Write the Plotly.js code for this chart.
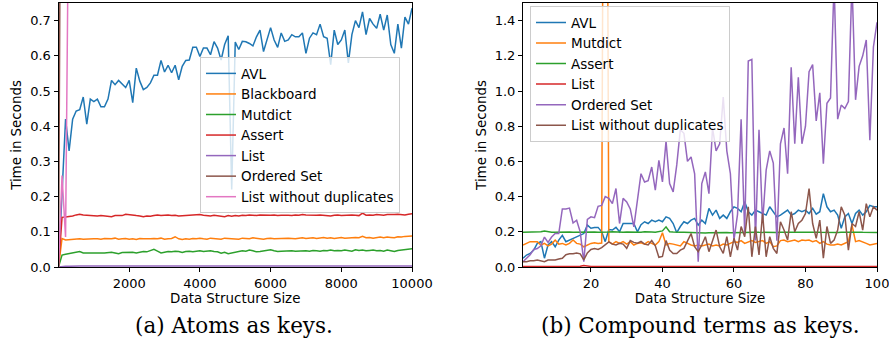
<!DOCTYPE html>
<html><head><meta charset="utf-8">
<script src="https://cdn.plot.ly/plotly-3.0.1.min.js"></script>
<style>html,body{margin:0;padding:0;background:#fff}#chart{width:889px;height:350px}</style>
</head><body><div id="chart"></div>
<script>
// ---------- (a) Atoms as keys ----------
const sizesA = [0,100,200,300,400,500,600,700,800,900,
1000,1100,1200,1300,1400,1500,1600,1700,1800,1900,
2000,2100,2200,2300,2400,2500,2600,2700,2800,2900,
3000,3100,3200,3300,3400,3500,3600,3700,3800,3900,
4000,4100,4200,4300,4400,4500,4600,4700,4800,4900,
5000,5100,5200,5300,5400,5500,5600,5700,5800,5900,
6000,6100,6200,6300,6400,6500,6600,6700,6800,6900,
7000,7100,7200,7300,7400,7500,7600,7700,7800,7900,
8000,8100,8200,8300,8400,8500,8600,8700,8800,8900,
9000,9100,9200,9300,9400,9500,9600,9700,9800,9900,10000];
const ticksA = [2000,4000,6000,8000,10000];
const tickLabelsA = ['2000','4000','6000','8000','10000'];
const avlA = [0.0,0.2,0.42,0.33,0.42,0.443,0.447,0.483,0.406,0.477,
0.47,0.477,0.455,0.455,0.477,0.53,0.518,0.53,0.52,0.51,
0.53,0.467,0.565,0.528,0.504,0.51,0.523,0.545,0.545,0.587,
0.554,0.573,0.552,0.573,0.532,0.57,0.587,0.588,0.624,0.624,
0.598,0.622,0.622,0.603,0.64,0.622,0.588,0.632,0.657,0.22,
0.639,0.618,0.641,0.64,0.635,0.628,0.654,0.673,0.612,0.65,
0.68,0.645,0.624,0.665,0.641,0.645,0.66,0.654,0.654,0.665,
0.607,0.65,0.665,0.66,0.69,0.654,0.65,0.575,0.673,0.632,
0.645,0.673,0.58,0.66,0.70,0.68,0.725,0.66,0.706,0.69,
0.678,0.718,0.673,0.716,0.632,0.607,0.69,0.622,0.71,0.69,0.735];
const blackboardA = [0.0,0.081,0.077,0.078,0.079,0.078,0.08,0.079,0.08,0.079,
0.08,0.08,0.079,0.081,0.08,0.08,0.082,0.079,0.08,0.081,
0.079,0.08,0.078,0.081,0.08,0.079,0.08,0.081,0.08,0.082,
0.079,0.08,0.081,0.086,0.08,0.078,0.08,0.079,0.081,0.08,
0.082,0.08,0.079,0.082,0.081,0.08,0.079,0.082,0.081,0.08,
0.08,0.079,0.082,0.081,0.08,0.083,0.082,0.08,0.079,0.081,
0.082,0.08,0.081,0.08,0.083,0.082,0.081,0.08,0.082,0.083,
0.081,0.082,0.083,0.081,0.082,0.084,0.082,0.083,0.081,0.083,
0.084,0.082,0.083,0.082,0.084,0.083,0.087,0.083,0.084,0.082,
0.084,0.085,0.083,0.085,0.084,0.083,0.086,0.085,0.087,0.087,0.088];
const mutdictA = [0.0,0.034,0.036,0.038,0.038,0.042,0.044,0.04,0.039,0.04,
0.04,0.041,0.04,0.04,0.041,0.042,0.04,0.038,0.041,0.042,
0.043,0.042,0.04,0.042,0.044,0.043,0.046,0.05,0.045,0.04,
0.042,0.044,0.043,0.045,0.044,0.041,0.044,0.045,0.043,0.045,
0.046,0.044,0.045,0.046,0.044,0.043,0.039,0.042,0.038,0.04,
0.043,0.044,0.046,0.045,0.048,0.046,0.043,0.044,0.046,0.047,
0.049,0.046,0.044,0.045,0.046,0.045,0.046,0.045,0.046,0.045,
0.046,0.045,0.047,0.046,0.045,0.047,0.046,0.048,0.046,0.047,
0.046,0.048,0.047,0.045,0.049,0.047,0.048,0.046,0.047,0.048,
0.046,0.047,0.045,0.048,0.046,0.044,0.047,0.048,0.05,0.051,0.052];
const assertA = [0.0,0.141,0.142,0.143,0.145,0.148,0.15,0.148,0.147,0.146,
0.146,0.145,0.146,0.145,0.145,0.143,0.146,0.147,0.146,0.15,
0.148,0.147,0.146,0.145,0.143,0.145,0.144,0.146,0.148,0.146,
0.147,0.148,0.146,0.147,0.145,0.146,0.147,0.146,0.148,0.15,
0.149,0.147,0.146,0.145,0.147,0.146,0.145,0.143,0.146,0.144,
0.146,0.145,0.147,0.146,0.148,0.147,0.146,0.148,0.147,0.146,
0.147,0.148,0.146,0.147,0.148,0.147,0.146,0.148,0.147,0.149,
0.148,0.147,0.146,0.147,0.148,0.147,0.146,0.145,0.147,0.148,
0.146,0.147,0.146,0.148,0.147,0.146,0.153,0.147,0.148,0.147,
0.149,0.148,0.147,0.149,0.148,0.149,0.15,0.149,0.148,0.15,0.151];
const listA = [0.0,0.002,0.002,0.002,0.003,0.003,0.003,0.003,0.003,0.003,
0.003,0.003,0.003,0.003,0.003,0.003,0.003,0.003,0.003,0.003,
0.003,0.003,0.003,0.003,0.003,0.003,0.003,0.003,0.003,0.003,
0.003,0.003,0.003,0.003,0.003,0.003,0.003,0.003,0.003,0.003,
0.003,0.003,0.003,0.003,0.003,0.003,0.003,0.003,0.003,0.003,
0.003,0.003,0.003,0.003,0.003,0.003,0.003,0.003,0.003,0.003,
0.003,0.003,0.003,0.003,0.003,0.003,0.003,0.003,0.003,0.003,
0.003,0.003,0.003,0.003,0.003,0.003,0.003,0.003,0.003,0.003,
0.003,0.003,0.003,0.003,0.003,0.003,0.003,0.003,0.003,0.003,
0.003,0.003,0.003,0.003,0.003,0.003,0.003,0.003,0.003,0.003,0.003];
const orderedSetA = [0.0,2.0,3.1,4.2,5.0,6.3,7.1,8.4,9.2,10.5,
11.3,12.6,13.4,14.5,15.7,16.4,17.8,18.6,19.5,20.9,
21.6,22.8,23.5,24.9,25.7,26.8,27.6,28.9,29.8,30.7,
31.9,32.6,33.8,34.7,35.9,36.6,37.8,38.7,39.6,40.9,
41.7,42.8,43.6,44.9,45.8,46.7,47.9,48.6,49.8,50.7,
51.9,52.6,53.8,54.7,55.9,56.8,57.6,58.9,59.7,60.8,
61.6,62.9,63.7,64.8,65.6,66.9,67.8,68.6,69.9,70.7,
71.8,72.6,73.9,74.8,75.6,76.9,77.7,78.8,79.6,80.9,
81.8,82.6,83.9,84.7,85.8,86.6,87.9,88.8,89.6,90.9,
91.7,92.8,93.6,94.9,95.8,96.6,97.9,98.7,99.8,100.6,101.9];
const listNoDupA = [0.0,0.26,0.085,1.2,24.5,29.1,33.8,38.2,43.0,47.6,
52.1,56.9,61.4,66.0,70.7,75.1,79.8,84.4,89.0,93.6,
98.3,102.8,107.5,112.1,116.6,121.3,125.9,130.4,135.1,139.7,
144.2,148.9,153.4,158.0,162.7,167.2,171.8,176.5,181.0,185.6,
190.3,194.8,199.4,204.1,208.6,213.2,217.9,222.4,227.0,231.7,
236.2,240.8,245.5,250.0,254.6,259.3,263.8,268.4,273.1,277.6,
282.2,286.9,291.4,296.0,300.7,305.2,309.8,314.5,319.0,323.6,
328.3,332.8,337.4,342.1,346.6,351.2,355.9,360.4,365.0,369.7,
374.2,378.8,383.5,388.0,392.6,397.3,401.8,406.4,411.1,415.6,
420.2,424.9,429.4,434.0,438.7,443.2,447.8,452.5,457.0,461.6,466.3];

// ---------- (b) Compound terms as keys ----------
const sizesB = [1,2,3,4,5,6,7,8,9,10,11,12,13,14,15,16,17,18,19,20,
21,22,23,24,25,26,27,28,29,30,31,32,33,34,35,36,37,38,39,40,
41,42,43,44,45,46,47,48,49,50,51,52,53,54,55,56,57,58,59,60,
61,62,63,64,65,66,67,68,69,70,71,72,73,74,75,76,77,78,79,80,
81,82,83,84,85,86,87,88,89,90,91,92,93,94,95,96,97,98,99,100];
const ticksB = [20,40,60,80,100];
const tickLabelsB = ['20','40','60','80','100'];
const avlB = [0.05,0.068,0.077,0.096,0.134,0.144,0.05,0.125,0.144,0.115,
0.153,0.18,0.144,0.153,0.162,0.17,0.18,0.19,0.238,0.22,
0.225,0.225,0.2,0.144,0.213,0.21,0.225,0.2,0.247,0.247,
0.25,0.247,0.2,0.24,0.257,0.247,0.266,0.257,0.266,0.257,
0.285,0.276,0.247,0.195,0.23,0.257,0.247,0.266,0.276,0.238,
0.266,0.247,0.333,0.295,0.323,0.276,0.295,0.276,0.314,0.342,
0.333,0.314,0.37,0.314,0.295,0.323,0.314,0.304,0.295,0.342,
0.314,0.285,0.295,0.307,0.323,0.295,0.304,0.323,0.314,0.323,
0.304,0.333,0.3,0.314,0.417,0.342,0.314,0.323,0.295,0.22,
0.285,0.304,0.247,0.304,0.323,0.295,0.314,0.35,0.342,0.342];
const mutdictB = [0.125,0.134,0.144,0.144,0.144,0.125,0.134,0.12,0.13,0.153,
0.13,0.134,0.125,0.134,0.153,0.134,0.13,0.115,0.125,0.134,
0.138,0.134,0.136,5.2,0.144,0.13,0.144,0.134,0.144,0.13,
0.144,0.125,0.134,0.138,0.13,0.144,0.134,0.125,0.144,0.195,
0.125,0.134,0.13,0.125,0.12,0.144,0.134,0.125,0.12,0.125,
0.12,0.125,0.13,0.12,0.125,0.12,0.13,0.125,0.134,0.144,
0.14,0.15,0.134,0.144,0.15,0.14,0.144,0.15,0.134,0.144,
0.115,0.12,0.15,0.153,0.144,0.15,0.153,0.144,0.153,0.15,
0.153,0.144,0.15,0.134,0.144,0.13,0.125,0.125,0.13,0.125,
0.134,0.144,0.238,0.144,0.15,0.144,0.134,0.125,0.13,0.134];
const assertB = [0.197,0.197,0.198,0.197,0.198,0.2,0.205,0.2,0.198,0.197,
0.198,0.197,0.198,0.199,0.197,0.198,0.197,0.198,0.197,0.2,
0.199,0.198,0.197,0.198,0.199,0.2,0.198,0.197,0.198,0.199,
0.198,0.2,0.199,0.198,0.2,0.201,0.199,0.198,0.2,0.205,
0.228,0.2,0.199,0.2,0.198,0.197,0.196,0.195,0.193,0.192,
0.192,0.193,0.194,0.195,0.196,0.197,0.198,0.196,0.195,0.196,
0.197,0.196,0.195,0.196,0.197,0.198,0.197,0.196,0.197,0.198,
0.197,0.196,0.197,0.198,0.197,0.196,0.197,0.198,0.197,0.198,
0.197,0.196,0.198,0.197,0.196,0.197,0.198,0.197,0.196,0.197,
0.198,0.197,0.196,0.197,0.198,0.197,0.196,0.197,0.197,0.196];
const listB = [0.003,0.003,0.003,0.003,0.003,0.003,0.003,0.003,0.003,0.003,
0.003,0.003,0.003,0.003,0.003,0.003,0.004,0.008,0.004,0.003,
0.003,0.003,0.003,0.003,0.003,0.003,0.003,0.003,0.003,0.003,
0.003,0.003,0.003,0.003,0.003,0.003,0.003,0.003,0.003,0.003,
0.003,0.003,0.003,0.003,0.003,0.003,0.003,0.003,0.003,0.003,
0.003,0.003,0.003,0.003,0.003,0.003,0.003,0.003,0.003,0.003,
0.003,0.003,0.003,0.003,0.003,0.003,0.003,0.003,0.003,0.003,
0.003,0.003,0.003,0.003,0.003,0.003,0.003,0.003,0.003,0.003,
0.003,0.003,0.003,0.003,0.003,0.003,0.003,0.003,0.003,0.003,
0.003,0.003,0.003,0.003,0.003,0.003,0.003,0.003,0.003,0.003];
const orderedSetB = [0.03,0.05,0.07,0.1,0.105,0.12,0.17,0.14,0.17,0.19,
0.19,0.33,0.33,0.335,0.25,0.266,0.2,0.03,0.27,0.285,
0.28,0.345,0.35,0.4,0.39,0.36,0.446,0.247,0.39,0.37,
0.33,0.228,0.37,0.53,0.483,0.49,0.568,0.436,0.606,0.483,
0.716,0.474,0.427,0.58,0.78,0.76,0.6,0.625,0.53,0.03,
0.474,0.54,0.417,0.79,0.66,0.7,0.965,0.66,0.53,0.153,
0.3,0.84,0.19,1.17,1.18,0.15,0.78,0.25,0.55,0.66,
0.59,0.15,0.7,0.79,0.53,1.135,0.7,1.078,0.7,0.8,
1.11,1.15,0.83,0.99,0.587,0.93,0.96,1.62,0.84,0.92,
0.9,0.94,1.62,0.95,1.14,1.2,1.29,0.72,1.25,1.39];
const listNoDupB = [0.03,0.03,0.035,0.035,0.04,0.035,0.03,0.04,0.04,0.04,
0.045,0.05,0.07,0.075,0.075,0.08,0.075,0.04,0.08,0.1,
0.105,0.1,0.11,0.125,0.143,0.13,0.125,0.135,0.13,0.106,
0.15,0.14,0.135,0.145,0.13,0.125,0.15,0.12,0.055,0.06,
0.15,0.096,0.077,0.077,0.096,0.106,0.153,0.19,0.115,0.087,
0.125,0.172,0.087,0.153,0.21,0.115,0.077,0.172,0.058,0.163,
0.096,0.23,0.172,0.342,0.058,0.23,0.068,0.304,0.058,0.172,
0.106,0.077,0.257,0.21,0.153,0.314,0.2,0.247,0.266,0.304,
0.446,0.247,0.163,0.266,0.05,0.23,0.134,0.153,0.21,0.342,
0.295,0.096,0.247,0.23,0.314,0.21,0.36,0.285,0.342,0.323];

const C = {blue:'#1f77b4', orange:'#ff7f0e', green:'#2ca02c', red:'#d62728', purple:'#9467bd', brown:'#8c564b', pink:'#e377c2'};

function tr(x, y, name, color, xa, ya, leg) {
  return {type:'scatter', mode:'lines', x:x, y:y, name:name, xaxis:xa, yaxis:ya, legend:leg,
          line:{color:color, width:1.5}, hoverinfo:'skip'};
}

const data = [
  tr(sizesA, avlA, 'AVL', C.blue, 'x', 'y', 'legend'),
  tr(sizesA, blackboardA, 'Blackboard', C.orange, 'x', 'y', 'legend'),
  tr(sizesA, mutdictA, 'Mutdict', C.green, 'x', 'y', 'legend'),
  tr(sizesA, assertA, 'Assert', C.red, 'x', 'y', 'legend'),
  tr(sizesA, listA, 'List', C.purple, 'x', 'y', 'legend'),
  tr(sizesA, orderedSetA, 'Ordered Set', C.brown, 'x', 'y', 'legend'),
  tr(sizesA, listNoDupA, 'List without duplicates', C.pink, 'x', 'y', 'legend'),
  tr(sizesB, avlB, 'AVL', C.blue, 'x2', 'y2', 'legend2'),
  tr(sizesB, mutdictB, 'Mutdict', C.orange, 'x2', 'y2', 'legend2'),
  tr(sizesB, assertB, 'Assert', C.green, 'x2', 'y2', 'legend2'),
  tr(sizesB, listB, 'List', C.red, 'x2', 'y2', 'legend2'),
  tr(sizesB, orderedSetB, 'Ordered Set', C.purple, 'x2', 'y2', 'legend2'),
  tr(sizesB, listNoDupB, 'List without duplicates', C.brown, 'x2', 'y2', 'legend2')
];

const W = 889;
const axBase = {showline:true, mirror:true, linecolor:'#000', linewidth:1, ticks:'outside', ticklen:4,
  tickwidth:1, tickcolor:'#000', showgrid:false, zeroline:false, automargin:false, ticklabeloverflow:'allow',
  tickfont:{family:'DejaVu Sans', size:13, color:'#000'}};
const titleFont = {family:'DejaVu Sans', size:13.4, color:'#000'};
const legBase = {xanchor:'left', yanchor:'top', bgcolor:'rgba(255,255,255,0.8)', bordercolor:'#cccccc',
  borderwidth:1, font:{family:'DejaVu Sans', size:13.5, color:'#000'}};
const capFont = {family:'DejaVu Serif', size:21.5, color:'#000'};

const layout = {
  width:889, height:350, margin:{l:0, r:0, t:3, b:83},
  paper_bgcolor:'#fff', plot_bgcolor:'#fff', showlegend:true,
  font:{family:'DejaVu Sans', size:13, color:'#000'},
  xaxis: Object.assign({}, axBase, {domain:[58.5/W, 412/W], range:[0,10000], tickvals:ticksA, ticktext:tickLabelsA,
    anchor:'y', title:{text:'Data Structure Size', font:titleFont, standoff:4}}),
  yaxis: Object.assign({}, axBase, {domain:[0,1], range:[0,0.75], tickvals:[0,0.1,0.2,0.3,0.4,0.5,0.6,0.7],
    tickformat:'.1f', anchor:'x', title:{text:'Time in Seconds', font:titleFont, standoff:5}}),
  xaxis2: Object.assign({}, axBase, {domain:[523/W, 877/W], range:[1,100], tickvals:ticksB, ticktext:tickLabelsB,
    anchor:'y2', title:{text:'Data Structure Size', font:titleFont, standoff:4}}),
  yaxis2: Object.assign({}, axBase, {domain:[0,1], range:[0,1.5], tickvals:[0,0.2,0.4,0.6,0.8,1.0,1.2,1.4],
    tickformat:'.1f', anchor:'x2', title:{text:'Time in Seconds', font:titleFont, standoff:5}}),
  legend: Object.assign({}, legBase, {x:200/W, y:0.795}),
  legend2: Object.assign({}, legBase, {x:530/W, y:0.988}),
  annotations:[
    {text:'(a) Atoms as keys.', xref:'paper', yref:'paper', x:234/W, y:-0.22, xanchor:'center', yanchor:'middle',
     showarrow:false, font:capFont},
    {text:'(b) Compound terms as keys.', xref:'paper', yref:'paper', x:700/W, y:-0.22, xanchor:'center', yanchor:'middle',
     showarrow:false, font:capFont}
  ]
};

Plotly.newPlot('chart', data, layout, {staticPlot:true, displayModeBar:false});
</script>
</body></html>
